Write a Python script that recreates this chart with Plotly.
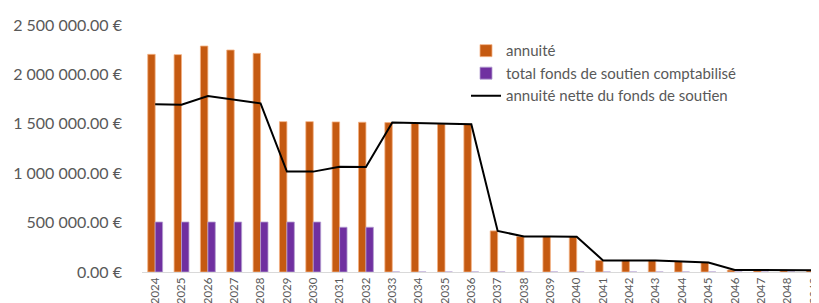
import plotly.graph_objects as go

years = [str(y) for y in range(2024, 2050)]
annuite = [2203000, 2200000, 2287000, 2247000, 2213000, 1522000, 1522000, 1519000, 1516000,
           1512000, 1506000, 1499000, 1496000, 416000, 359000, 359000, 357000, 117000,
           117000, 117000, 107000, 97000, 20000, 18000, 18000, 18000]
fonds = [506000, 506000, 506000, 506000, 506000, 506000, 506000, 453000, 453000,
         0, 0, 0, 0, 0, 0, 0, 0, 0, 0, 0, 0, 0, 0, 0, 0, 0]
nette = [1697000, 1694000, 1781000, 1741000, 1707000, 1016000, 1016000, 1066000, 1063000,
         1512000, 1506000, 1499000, 1496000, 416000, 359000, 359000, 357000, 117000,
         117000, 117000, 107000, 97000, 20000, 18000, 18000, 18000]
ytick_vals = [0, 500000, 1000000, 1500000, 2000000, 2500000]
ytick_text = ["0.00 €", "500 000.00 €", "1 000 000.00 €", "1 500 000.00 €",
              "2 000 000.00 €", "2 500 000.00 €"]

FONT = "Lato"
GREY = "#595959"

fig = go.Figure()
fig.add_trace(go.Bar(x=years, y=annuite, name="annuité",
                     marker=dict(color="#C55A11", line=dict(color="#F4B183", width=0.8))))
fig.add_trace(go.Bar(x=years, y=fonds, name="total fonds de soutien comptabilisé",
                     marker=dict(color="#7030A0", line=dict(color="#B4A0D0", width=0.8))))
fig.add_trace(go.Scatter(x=years, y=nette, name="annuité nette du fonds de soutien",
                         mode="lines", line=dict(color="black", width=2)))

fig.update_layout(
    width=819, height=303,
    margin=dict(l=134, r=0, t=17, b=39),
    plot_bgcolor="white", paper_bgcolor="white",
    barmode="group", bargap=0.435, bargroupgap=0,
    font=dict(family=FONT, color=GREY),
    legend=dict(x=0.473, y=0.962, xanchor="left", yanchor="top",
                font=dict(size=15, color=GREY, family=FONT),
                bgcolor="rgba(0,0,0,0)", tracegroupgap=0, itemwidth=30),
    showlegend=True,
)
fig.update_xaxes(type="category", range=[-0.5, 25.5],
                 showline=True, linecolor="#D9D9D9", linewidth=1,
                 showgrid=False, tickangle=-90,
                 tickfont=dict(size=11.5, color=GREY, family=FONT),
                 ticks="", ticklabelstandoff=0)
fig.update_yaxes(range=[0, 2500000], tickvals=ytick_vals, ticktext=ytick_text,
                 showgrid=False, showline=False, zeroline=False,
                 tickfont=dict(size=16, color=GREY, family=FONT),
                 ticks="", ticklabelstandoff=19)

fig.write_html("out.html")
